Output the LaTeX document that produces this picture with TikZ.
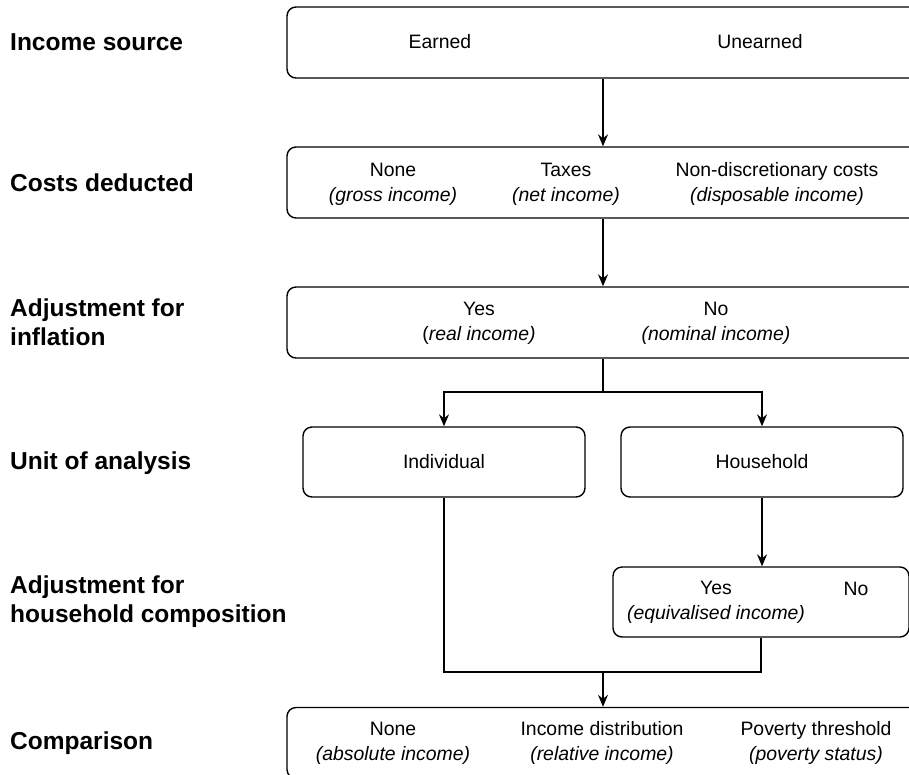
\documentclass[tikz,border=0pt]{standalone}
\usepackage{fontspec}
\setmainfont{Liberation Sans}
\usetikzlibrary{positioning,arrows.meta}

\begin{document}
\begin{tikzpicture}[x=1pt, y=-1pt,
  box/.style={draw, line width=1.4pt, rounded corners=9pt, minimum height=71pt, inner sep=0pt},
  lbl/.style={anchor=west, align=left, inner sep=0pt, font=\fontsize{24.5}{29}\selectfont\bfseries},
  txt/.style={align=center, inner sep=0pt, font=\fontsize{19.4}{25}\selectfont},
  arr/.style={line width=1.4pt, -{Stealth[length=12pt, width=10pt, inset=4pt]}},
  link/.style={line width=1.4pt}]
  \useasboundingbox (0,0) rectangle (909,774);
  \clip (0,0) rectangle (909,774);

  % row labels
  \node[lbl] (lsource) at (10,42) {Income source};
  \node[lbl] (lcosts) at (10,183) {Costs deducted};
  \node[lbl] (linfl) at (10,322) {Adjustment for\\inflation};
  \node[lbl] (lunit) at (10,463) {Unit of analysis};
  \node[lbl] (lhcomp) at (10,602) {Adjustment for\\household composition};
  \node[lbl] (lcomp) at (10,743) {Comparison};

  % boxes
  \node[box, minimum width=632pt] (source) at (603,42.5) {};
  \node[box, minimum width=632pt] (costs) at (603,182.5) {};
  \node[box, minimum width=632pt] (infl) at (603,322.5) {};
  \node[box, minimum width=282pt, minimum height=70pt] (indiv) at (444,462) {};
  \node[box, minimum width=282pt, minimum height=70pt] (house) at (762,462) {};
  \node[box, minimum width=296pt, minimum height=70pt] (hcomp) at (761,602) {};
  \node[box, minimum width=632pt] (comp) at (603,743) {};

  % box texts
  \node[txt] (earned) at (440,42) {Earned};
  \node[txt] (unearned) at (760,42) {Unearned};
  \node[txt] (none) at (393,184) {None\\\textit{(gross income)}};
  \node[txt] (taxes) at (566,184) {Taxes\\\textit{(net income)}};
  \node[txt] (nondisc) at (777,184) {Non-discretionary costs\\\textit{(disposable income)}};
  \node[txt] (yes) at (479,323) {Yes\\(\textit{real income)}};
  \node[txt] (no) at (716,323) {No\\\textit{(nominal income)}};
  \node[txt] at (indiv) {Individual};
  \node[txt] at (house) {Household};
  \node[txt] (hyes) at (716,602) {Yes\\\textit{(equivalised income)}};
  \node[txt] (hno) at (856,589) {No};
  \node[txt] (cnone) at (393,743) {None\\\textit{(absolute income)}};
  \node[txt] (cdist) at (602,743) {Income distribution\\\textit{(relative income)}};
  \node[txt] (cpov) at (816,743) {Poverty threshold\\\textit{(poverty status)}};

  % connectors
  \coordinate (split) at (603,392);
  \coordinate (merge) at (603,672);
  \draw[arr] (source.south) -- (costs.north);
  \draw[arr] (costs.south) -- (infl.north);
  \draw[link] (infl.south) -- (split);
  \draw[arr] (split) -| (indiv.north);
  \draw[arr] (split) -| (house.north);
  \draw[arr] (house.south) -- (house.south |- hcomp.north);
  \draw[link] (indiv.south) |- (merge) -| (hcomp.south);
  \draw[arr] (merge) -- (comp.north);
\end{tikzpicture}
\end{document}
